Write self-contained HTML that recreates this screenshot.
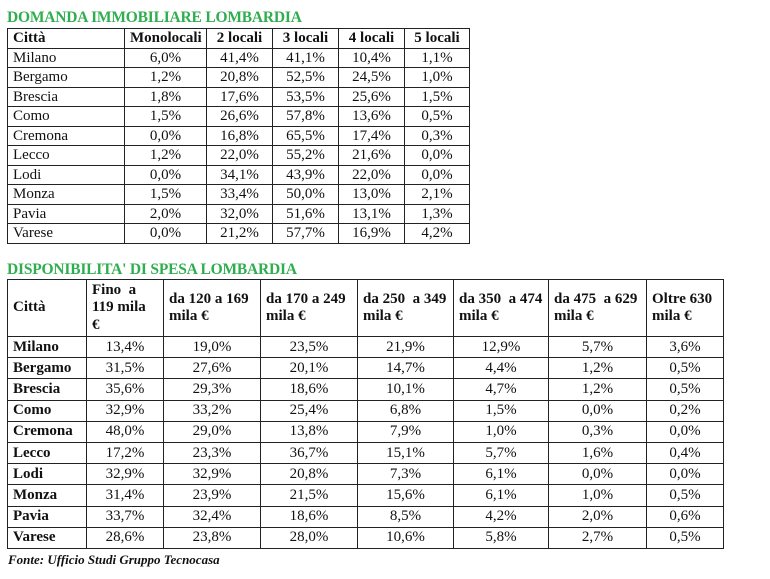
<!DOCTYPE html>
<html><head><meta charset="utf-8"><style>
body{margin:0;background:#fff;width:770px;height:579px;position:relative;overflow:hidden;font-family:"Liberation Serif",serif;color:#111}
.t{position:absolute;left:7px;font-weight:bold;color:#2fae4f;font-size:15.5px;letter-spacing:-0.2px}
table{position:absolute;left:7px;border-collapse:collapse;table-layout:fixed;font-size:15px}
td{border:1px solid #222;padding:0 5px;white-space:nowrap;overflow:hidden}
td.c{text-align:center}
#a td{height:18.5px;line-height:18px}
#b tr.h td{height:56px;font-weight:bold;line-height:17.5px;white-space:normal;vertical-align:middle}
#b td{height:20.2px;line-height:19px}
#b td.n{font-weight:bold}
.f{position:absolute;left:8px;top:552px;font-size:13px;font-weight:bold;font-style:italic}
</style></head><body>
<div class="t" style="top:9px">DOMANDA IMMOBILIARE LOMBARDIA</div>
<table id="a" style="top:28px;width:462px">
<colgroup><col style="width:117px"><col style="width:82px"><col style="width:66px"><col style="width:66px"><col style="width:66px"><col style="width:65px"></colgroup>
<tr style="font-weight:bold"><td>Città</td><td class="c">Monolocali</td><td class="c">2 locali</td><td class="c">3 locali</td><td class="c">4 locali</td><td class="c">5 locali</td></tr>
<tr><td>Milano</td><td class="c">6,0%</td><td class="c">41,4%</td><td class="c">41,1%</td><td class="c">10,4%</td><td class="c">1,1%</td></tr>
<tr><td>Bergamo</td><td class="c">1,2%</td><td class="c">20,8%</td><td class="c">52,5%</td><td class="c">24,5%</td><td class="c">1,0%</td></tr>
<tr><td>Brescia</td><td class="c">1,8%</td><td class="c">17,6%</td><td class="c">53,5%</td><td class="c">25,6%</td><td class="c">1,5%</td></tr>
<tr><td>Como</td><td class="c">1,5%</td><td class="c">26,6%</td><td class="c">57,8%</td><td class="c">13,6%</td><td class="c">0,5%</td></tr>
<tr><td>Cremona</td><td class="c">0,0%</td><td class="c">16,8%</td><td class="c">65,5%</td><td class="c">17,4%</td><td class="c">0,3%</td></tr>
<tr><td>Lecco</td><td class="c">1,2%</td><td class="c">22,0%</td><td class="c">55,2%</td><td class="c">21,6%</td><td class="c">0,0%</td></tr>
<tr><td>Lodi</td><td class="c">0,0%</td><td class="c">34,1%</td><td class="c">43,9%</td><td class="c">22,0%</td><td class="c">0,0%</td></tr>
<tr><td>Monza</td><td class="c">1,5%</td><td class="c">33,4%</td><td class="c">50,0%</td><td class="c">13,0%</td><td class="c">2,1%</td></tr>
<tr><td>Pavia</td><td class="c">2,0%</td><td class="c">32,0%</td><td class="c">51,6%</td><td class="c">13,1%</td><td class="c">1,3%</td></tr>
<tr><td>Varese</td><td class="c">0,0%</td><td class="c">21,2%</td><td class="c">57,7%</td><td class="c">16,9%</td><td class="c">4,2%</td></tr>
</table>
<div class="t" style="top:261px">DISPONIBILITA' DI SPESA LOMBARDIA</div>
<table id="b" style="top:279px;width:716px">
<colgroup><col style="width:79px"><col style="width:77px"><col style="width:97px"><col style="width:97px"><col style="width:96px"><col style="width:95px"><col style="width:98px"><col style="width:77px"></colgroup>
<tr class="h"><td>Città</td><td>Fino&nbsp; a<br>119 mila<br>€</td><td>da 120 a 169 mila €</td><td>da 170 a 249 mila €</td><td>da 250&nbsp; a 349 mila €</td><td>da 350&nbsp; a 474 mila €</td><td>da 475&nbsp; a 629 mila €</td><td>Oltre 630 mila €</td></tr>
<tr><td class="n">Milano</td><td class="c">13,4%</td><td class="c">19,0%</td><td class="c">23,5%</td><td class="c">21,9%</td><td class="c">12,9%</td><td class="c">5,7%</td><td class="c">3,6%</td></tr>
<tr><td class="n">Bergamo</td><td class="c">31,5%</td><td class="c">27,6%</td><td class="c">20,1%</td><td class="c">14,7%</td><td class="c">4,4%</td><td class="c">1,2%</td><td class="c">0,5%</td></tr>
<tr><td class="n">Brescia</td><td class="c">35,6%</td><td class="c">29,3%</td><td class="c">18,6%</td><td class="c">10,1%</td><td class="c">4,7%</td><td class="c">1,2%</td><td class="c">0,5%</td></tr>
<tr><td class="n">Como</td><td class="c">32,9%</td><td class="c">33,2%</td><td class="c">25,4%</td><td class="c">6,8%</td><td class="c">1,5%</td><td class="c">0,0%</td><td class="c">0,2%</td></tr>
<tr><td class="n">Cremona</td><td class="c">48,0%</td><td class="c">29,0%</td><td class="c">13,8%</td><td class="c">7,9%</td><td class="c">1,0%</td><td class="c">0,3%</td><td class="c">0,0%</td></tr>
<tr><td class="n">Lecco</td><td class="c">17,2%</td><td class="c">23,3%</td><td class="c">36,7%</td><td class="c">15,1%</td><td class="c">5,7%</td><td class="c">1,6%</td><td class="c">0,4%</td></tr>
<tr><td class="n">Lodi</td><td class="c">32,9%</td><td class="c">32,9%</td><td class="c">20,8%</td><td class="c">7,3%</td><td class="c">6,1%</td><td class="c">0,0%</td><td class="c">0,0%</td></tr>
<tr><td class="n">Monza</td><td class="c">31,4%</td><td class="c">23,9%</td><td class="c">21,5%</td><td class="c">15,6%</td><td class="c">6,1%</td><td class="c">1,0%</td><td class="c">0,5%</td></tr>
<tr><td class="n">Pavia</td><td class="c">33,7%</td><td class="c">32,4%</td><td class="c">18,6%</td><td class="c">8,5%</td><td class="c">4,2%</td><td class="c">2,0%</td><td class="c">0,6%</td></tr>
<tr><td class="n">Varese</td><td class="c">28,6%</td><td class="c">23,8%</td><td class="c">28,0%</td><td class="c">10,6%</td><td class="c">5,8%</td><td class="c">2,7%</td><td class="c">0,5%</td></tr>
</table>
<div class="f">Fonte: Ufficio Studi Gruppo Tecnocasa</div>
</body></html>
